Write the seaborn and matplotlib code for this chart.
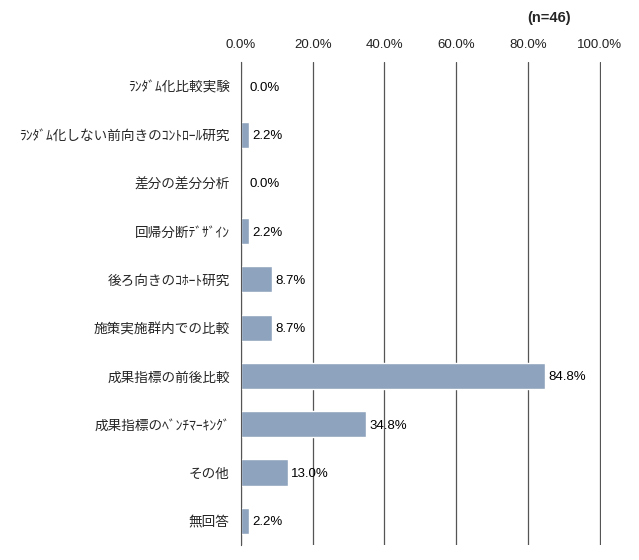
import pandas as pd
import seaborn as sns
import matplotlib.pyplot as plt
from matplotlib.ticker import PercentFormatter

# 回答カテゴリと割合 (n=46)
categories = [
    "ﾗﾝﾀﾞﾑ化比較実験",
    "ﾗﾝﾀﾞﾑ化しない前向きのｺﾝﾄﾛｰﾙ研究",
    "差分の差分分析",
    "回帰分断ﾃﾞｻﾞｲﾝ",
    "後ろ向きのｺﾎｰﾄ研究",
    "施策実施群内での比較",
    "成果指標の前後比較",
    "成果指標のﾍﾞﾝﾁﾏｰｷﾝｸﾞ",
    "その他",
    "無回答",
]
values = [0.0, 2.2, 0.0, 2.2, 8.7, 8.7, 84.8, 34.8, 13.0, 2.2]
x_ticks = [0, 20, 40, 60, 80, 100]
n_label = "(n=46)"

df = pd.DataFrame({"cat": categories, "pct": values})

sns.set_style("white")
plt.rcParams['font.family'] = ['Liberation Sans', 'Noto Sans CJK JP', 'DejaVu Sans']

fig = plt.figure(figsize=(6.39, 5.6), dpi=100)
ax = fig.add_axes([0.377, 0.027, 0.563, 0.862])

sns.barplot(data=df, x="pct", y="cat", color="#8EA4BE", saturation=1,
            width=0.54, ax=ax)

ax.set_xlim(0, 100.3)
ax.set_xticks(x_ticks)
ax.xaxis.set_major_formatter(PercentFormatter(decimals=1))
ax.xaxis.tick_top()
ax.tick_params(axis="x", length=0, pad=8, labelsize=9.5, labelcolor="#222222")
ax.tick_params(axis="y", length=0, pad=8)
for lbl in ax.get_yticklabels():
    lbl.set_fontfamily(['Noto Sans CJK JP', 'DejaVu Sans'])
    lbl.set_fontsize(9.8)
ax.set_xlabel("")
ax.set_ylabel("")
ax.grid(axis="x", color="#555555", linewidth=0.9)
ax.set_axisbelow(True)
for s in ["top", "right", "bottom"]:
    ax.spines[s].set_visible(False)
ax.spines["left"].set_color("#555555")

# 値ラベル
for i, v in enumerate(values):
    ax.text(v + 1.0 if v > 0 else 2.3, i + 0.03, f"{v:.1f}%", va="center",
            ha="left", fontsize=9.5, color="black")

fig.text(0.893, 0.968, n_label, ha="right", va="center", fontsize=10.5,
         fontweight="bold")

fig.savefig("out.png", dpi=100)
